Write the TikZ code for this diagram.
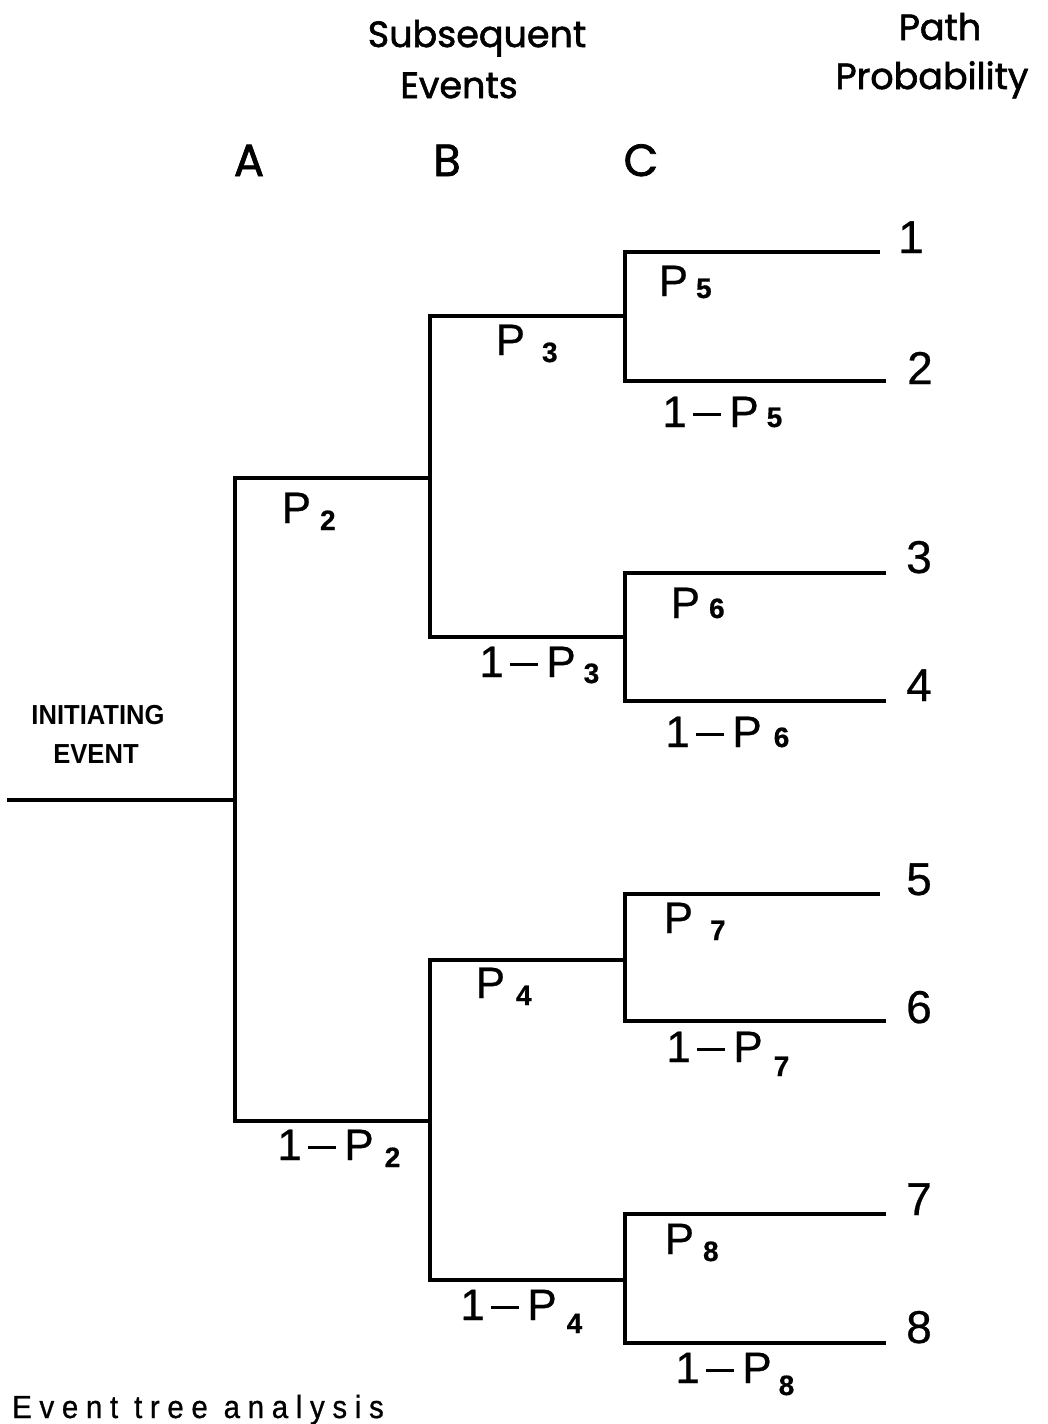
\documentclass[tikz,border=0pt]{standalone}
\usepackage{fontspec}
\setmainfont{Liberation Sans}
\newfontfamily\hdfont[FakeBold=1.6]{Poppins}
\newfontfamily\labfont[FakeBold=0.6]{Liberation Sans}
\newfontfamily\inifont[FakeStretch=0.93]{Liberation Sans}
\newfontfamily\ttlfont[LetterSpace=24,FakeStretch=0.92,FakeBold=0.8]{Liberation Sans}
\newcommand{\subd}[3]{\hspace{#1pt}\raisebox{#2pt}{\fontsize{28}{28}\selectfont\bfseries #3}}
\newcommand{\onem}{1\hspace{6.5pt}\rule[11pt]{28pt}{3.2pt}\hspace{8pt}P}
\begin{document}
\begin{tikzpicture}[x=1pt,y=-1pt,
  br/.style={line width=3.4pt, line join=miter, line cap=rect},
  lab/.style={anchor=base west, inner sep=0pt, font=\labfont\fontsize{44}{44}\selectfont},
  num/.style={anchor=base, inner sep=0pt, font=\labfont\fontsize{46}{46}\selectfont},
  hd/.style={anchor=base, inner sep=0pt, font=\hdfont\fontsize{36.5}{36.5}\selectfont},
  colhd/.style={anchor=base, inner sep=0pt, font=\hdfont\fontsize{45}{45}\selectfont},
  ini/.style={anchor=base, inner sep=0pt, font=\inifont\bfseries\fontsize{27.5}{27.5}\selectfont},
  ttl/.style={anchor=base west, inner sep=0pt, font=\ttlfont\fontsize{32}{32}\selectfont}]
\useasboundingbox (0,0) rectangle (1047,1424);
\fill[white] (0,0) rectangle (1047,1424);
% junction coordinates
\coordinate (s0) at (9,800);
\coordinate (a0) at (235,800);
\coordinate (aT) at (235,478);
\coordinate (aB) at (235,1121);
\coordinate (bT) at (430,478);
\coordinate (bB) at (430,1121);
\coordinate (b1T) at (430,316);
\coordinate (b1B) at (430,637);
\coordinate (b2T) at (430,960);
\coordinate (b2B) at (430,1280);
\coordinate (cj1) at (625,316);
\coordinate (cj2) at (625,637);
\coordinate (cj3) at (625,960);
\coordinate (cj4) at (625,1280);
\coordinate (c1T) at (625,252);
\coordinate (c1B) at (625,381);
\coordinate (c2T) at (625,573);
\coordinate (c2B) at (625,701);
\coordinate (c3T) at (625,894);
\coordinate (c3B) at (625,1021);
\coordinate (c4T) at (625,1214);
\coordinate (c4B) at (625,1343);
\coordinate (e1) at (878,252);
\coordinate (e2) at (884,381);
\coordinate (e3) at (884,573);
\coordinate (e4) at (884,701);
\coordinate (e5) at (878,894);
\coordinate (e6) at (884,1021);
\coordinate (e7) at (884,1214);
\coordinate (e8) at (884,1343);
% tree
\draw[br] (s0) -- (a0);
\draw[br] (bT) -- (aT) -- (aB) -- (bB);
\draw[br] (cj1) -- (b1T) -- (b1B) -- (cj2);
\draw[br] (cj3) -- (b2T) -- (b2B) -- (cj4);
\draw[br] (e1) -- (c1T) -- (c1B) -- (e2);
\draw[br] (e3) -- (c2T) -- (c2B) -- (e4);
\draw[br] (e5) -- (c3T) -- (c3B) -- (e6);
\draw[br] (e7) -- (c4T) -- (c4B) -- (e8);
% headers
\node[hd] (sub1) at (477,47) {Subsequent};
\node[hd] (sub2) at (459,98) {Events};
\node[hd] (pp1) at (940,40) {Path};
\node[hd] (pp2) at (932,89) {Probability};
\node[colhd] (colA) at (249,176) {A};
\node[colhd] (colB) at (447,176) {B};
\node[colhd] (colC) at (641,176) {C};
\node[ini] (ie1) at (98,724) {INITIATING};
\node[ini] (ie2) at (96,763) {EVENT};
% branch labels
\node[lab] (p2) at (281.5,523) {P\subd{9}{-7}{2}};
\node[lab] (q2) at (277.2,1160) {\onem\subd{11}{-7}{2}};
\node[lab] (p3) at (495.5,355) {P\subd{17}{-7}{3}};
\node[lab] (q3) at (479.2,677) {\onem\subd{8}{-6}{3}};
\node[lab] (p4) at (475.5,998) {P\subd{11}{-7}{4}};
\node[lab] (q4) at (460.2,1320) {\onem\subd{10}{-13}{4}};
\node[lab] (p5) at (658.5,296) {P\subd{8}{-2}{5}};
\node[lab] (q5) at (662.2,427) {\onem\subd{8}{0}{5}};
\node[lab] (p6) at (670.5,618) {P\subd{9}{0}{6}};
\node[lab] (q6) at (665.2,747) {\onem\subd{12}{0}{6}};
\node[lab] (p7) at (663.5,933) {P\subd{17}{-7}{7}};
\node[lab] (q7) at (666.2,1062) {\onem\subd{11}{-14}{7}};
\node[lab] (p8) at (664.5,1254) {P\subd{9}{-7}{8}};
\node[lab] (q8) at (675.2,1383) {\onem\subd{7}{-12}{8}};
% path numbers
\node[num] (n1) at (911,253) {1};
\node[num] (n2) at (920,384) {2};
\node[num] (n3) at (919,573) {3};
\node[num] (n4) at (919,701) {4};
\node[num] (n5) at (919,895) {5};
\node[num] (n6) at (919,1023) {6};
\node[num] (n7) at (919,1215) {7};
\node[num] (n8) at (919,1343) {8};
% caption
\node[ttl] (cap) at (12,1418) {Event tree analysis};
\end{tikzpicture}
\end{document}
